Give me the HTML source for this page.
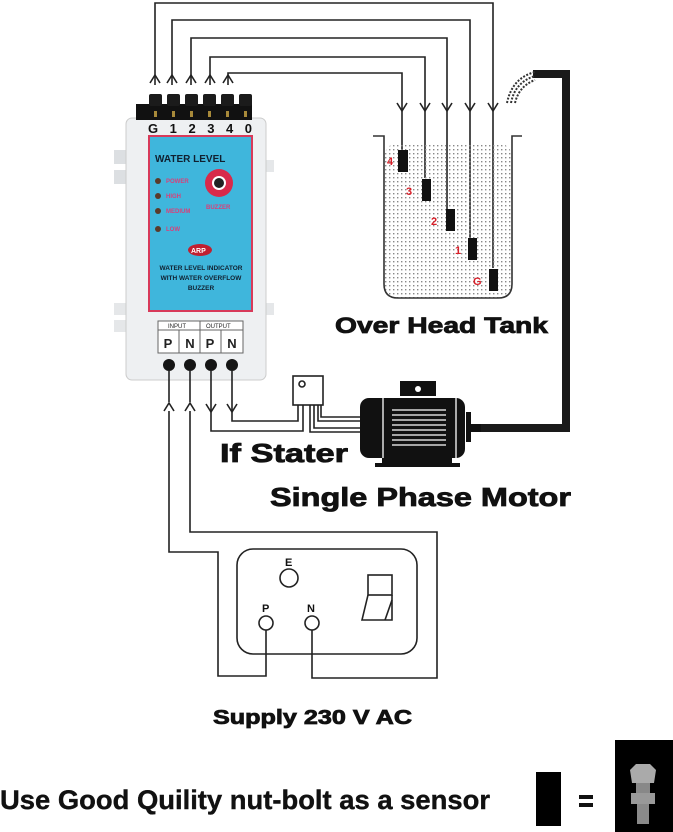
<!DOCTYPE html>
<html><head><meta charset="utf-8"><style>
html,body{margin:0;padding:0;background:#fff;}
svg{display:block;font-family:"Liberation Sans",Arial,sans-serif;}
</style></head><body>
<svg width="673" height="832" viewBox="0 0 673 832" xmlns="http://www.w3.org/2000/svg">
<defs>
<pattern id="dots" width="4" height="4" patternUnits="userSpaceOnUse"><rect x="1" y="1" width="1.4" height="1.4" fill="#888"/></pattern>
</defs>
<g fill="none" stroke="#222" stroke-width="1.6">
<polyline points="155,85 155,3 493,3 493,268"/>
<polyline points="172,85 172,20 470,20 470,238"/>
<polyline points="191,85 191,38 447,38 447,209"/>
<polyline points="210,85 210,57 425,57 425,178"/>
<polyline points="228,85 228,73 402,73 402,150"/>
<polyline points="150,83 155,75 160,83"/><polyline points="167,83 172,75 177,83"/><polyline points="186,83 191,75 196,83"/><polyline points="205,83 210,75 215,83"/><polyline points="223,83 228,75 233,83"/>
<polyline points="397,103 402,111 407,103"/><polyline points="420,103 425,111 430,103"/><polyline points="442,103 447,111 452,103"/><polyline points="465,103 470,111 475,103"/><polyline points="488,103 493,111 498,103"/>
</g>
<rect x="384" y="143" width="128" height="155" rx="14" fill="url(#dots)"/>
<path d="M373,136 H384 V284 Q384,298 398,298 H498 Q512,298 512,284 V136 H522" fill="none" stroke="#333" stroke-width="1.6"/>
<g fill="#111"><rect x="398" y="150" width="10" height="22"/><rect x="422" y="179" width="9" height="22"/><rect x="446" y="209" width="9" height="22"/><rect x="468" y="238" width="9" height="22"/><rect x="489" y="269" width="9" height="22"/></g>
<g fill="#d8202a" font-weight="bold" font-size="11"><text x="387" y="165">4</text><text x="406" y="195">3</text><text x="431" y="225">2</text><text x="455" y="254">1</text><text x="473" y="285">G</text></g>
<path d="M533,74 H566 V428 H480" fill="none" stroke="#1a1a1a" stroke-width="8"/>
<path d="M507,103 Q512,78 535,72 M511,103 Q515,82 535,76 M515,103 Q519,86 535,80" fill="none" stroke="#333" stroke-width="2" stroke-dasharray="2 1.5"/>
<rect x="114" y="150" width="20" height="14" fill="#dcdfe2"/><rect x="114" y="170" width="20" height="14" fill="#dcdfe2"/>
<rect x="114" y="303" width="20" height="12" fill="#e5e7e9"/><rect x="114" y="320" width="20" height="12" fill="#e5e7e9"/>
<rect x="260" y="160" width="14" height="12" fill="#e5e7e9"/><rect x="260" y="303" width="14" height="12" fill="#e5e7e9"/>
<rect x="126" y="118" width="140" height="262" rx="6" fill="#eef0f2" stroke="#ccc"/>
<rect x="136" y="104" width="116" height="16" fill="#111"/>
<g fill="#1b1b1b"><rect x="149" y="94" width="13" height="12" rx="2"/><rect x="167" y="94" width="13" height="12" rx="2"/><rect x="185" y="94" width="13" height="12" rx="2"/><rect x="203" y="94" width="13" height="12" rx="2"/><rect x="221" y="94" width="13" height="12" rx="2"/><rect x="239" y="94" width="13" height="12" rx="2"/></g>
<g fill="#a88a3a"><rect x="154" y="111" width="3" height="6"/><rect x="172" y="111" width="3" height="6"/><rect x="190" y="111" width="3" height="6"/><rect x="208" y="111" width="3" height="6"/><rect x="226" y="111" width="3" height="6"/><rect x="244" y="111" width="3" height="6"/></g>
<text x="148" y="133" font-size="13" font-weight="bold" fill="#111" textLength="104" lengthAdjust="spacing">G 1 2 3 4 0</text>
<rect x="149" y="136" width="103" height="175" fill="#3fb6dc" stroke="#d83a5a" stroke-width="2"/>
<text x="155" y="162" font-size="10" font-weight="bold" fill="#102030">WATER LEVEL</text>
<g fill="#5a3a2a"><circle cx="158" cy="181" r="3"/><circle cx="158" cy="196" r="3"/><circle cx="158" cy="211" r="3"/><circle cx="158" cy="229" r="3"/></g>
<g font-size="6" font-weight="bold" fill="#d8407a"><text x="166" y="183">POWER</text><text x="166" y="198">HIGH</text><text x="166" y="213">MEDIUM</text><text x="166" y="231">LOW</text><text x="206" y="209">BUZZER</text></g>
<circle cx="219" cy="183" r="14" fill="#d82a4a"/><circle cx="219" cy="183" r="7" fill="#fff"/><circle cx="219" cy="183" r="5" fill="#222"/>
<ellipse cx="200" cy="250" rx="12" ry="6" fill="#c02030"/><text x="191" y="253" font-size="7" font-weight="bold" fill="#fff">ARP</text>
<g font-size="6.5" font-weight="bold" fill="#102030" text-anchor="middle"><text x="201" y="270">WATER LEVEL INDICATOR</text><text x="201" y="280">WITH WATER OVERFLOW</text><text x="201" y="290">BUZZER</text></g>
<rect x="158" y="321" width="85" height="32" fill="#fff" stroke="#666"/>
<line x1="158" y1="330" x2="243" y2="330" stroke="#666"/>
<line x1="200" y1="321" x2="200" y2="353" stroke="#666"/><line x1="179" y1="330" x2="179" y2="353" stroke="#666"/><line x1="221" y1="330" x2="221" y2="353" stroke="#666"/>
<g font-size="6" fill="#222"><text x="168" y="328">INPUT</text><text x="206" y="328">OUTPUT</text></g>
<g font-size="13" font-weight="bold" fill="#222" text-anchor="middle"><text x="168" y="348">P</text><text x="190" y="348">N</text><text x="210" y="348">P</text><text x="232" y="348">N</text></g>
<g fill="#151515"><circle cx="169" cy="365" r="6"/><circle cx="190" cy="365" r="6"/><circle cx="211" cy="365" r="6"/><circle cx="232" cy="365" r="6"/></g>
<g fill="none" stroke="#222" stroke-width="1.6">
<line x1="169" y1="370" x2="169" y2="402"/><line x1="190" y1="370" x2="190" y2="402"/>
<polyline points="164,411 169,403 174,411"/><polyline points="185,411 190,403 195,411"/>
<polyline points="211,370 211,431 303,431 303,405"/>
<polyline points="232,370 232,421 298,421 298,405"/>
<polyline points="206,404 211,412 216,404"/><polyline points="227,404 232,412 237,404"/>
<polyline points="310,405 310,432 360,432"/><polyline points="314,405 314,428 360,428"/>
<polyline points="318,405 318,421 360,421"/><polyline points="321,405 321,417 360,417"/>
<rect x="293" y="376" width="30" height="29" fill="#fff"/>
<circle cx="302" cy="384" r="3"/>
<polyline points="169,411 169,552 218,552 218,676 266,676 266,630"/>
<polyline points="190,411 190,532 437,532 437,678 312,678 312,630"/>
<rect x="237" y="549" width="180" height="105" rx="16"/>
<circle cx="289" cy="578" r="9"/><circle cx="266" cy="623" r="7"/><circle cx="312" cy="623" r="7"/>
<rect x="368" y="575" width="24" height="20"/><polyline points="368,595 362,620 392,620 392,595"/><line x1="385" y1="620" x2="392" y2="600"/>
</g>
<g font-size="11" font-weight="bold" fill="#111"><text x="285" y="566">E</text><text x="262" y="612">P</text><text x="307" y="612">N</text></g>
<g fill="#111">
<rect x="400" y="381" width="36" height="15"/>
<rect x="360" y="398" width="105" height="60" rx="9"/>
<rect x="466" y="412" width="5" height="30"/>
<rect x="471" y="424" width="10" height="8"/>
<rect x="382" y="458" width="70" height="6"/><rect x="375" y="463" width="85" height="4"/>
</g>
<circle cx="418" cy="389" r="3" fill="#fff"/>
<g stroke="#fff" stroke-width="1.3"><line x1="383" y1="398" x2="383" y2="458"/><line x1="456" y1="398" x2="456" y2="458"/>
<line x1="392" y1="410" x2="446" y2="410"/><line x1="392" y1="415" x2="446" y2="415"/><line x1="392" y1="420" x2="446" y2="420"/><line x1="392" y1="425" x2="446" y2="425"/><line x1="392" y1="430" x2="446" y2="430"/><line x1="392" y1="435" x2="446" y2="435"/><line x1="392" y1="440" x2="446" y2="440"/><line x1="392" y1="445" x2="446" y2="445"/></g>
<g font-weight="bold" fill="#111" stroke="#111" stroke-width="0.8">
<text x="335" y="333" font-size="22" textLength="213" lengthAdjust="spacingAndGlyphs">Over Head Tank</text>
<text x="220" y="462" font-size="26" textLength="128" lengthAdjust="spacingAndGlyphs">If Stater</text>
<text x="270" y="506" font-size="26" textLength="301" lengthAdjust="spacingAndGlyphs">Single Phase Motor</text>
<text x="213" y="724" font-size="20" textLength="199" lengthAdjust="spacingAndGlyphs">Supply 230 V AC</text>
<text x="0" y="809" font-size="27" stroke-width="0.4" textLength="490" lengthAdjust="spacingAndGlyphs">Use Good Quility nut-bolt as a sensor</text>
</g>
<rect x="536" y="772" width="25" height="54" fill="#000"/>
<rect x="579" y="795" width="14" height="4" fill="#111"/><rect x="579" y="803" width="14" height="4" fill="#111"/>
<rect x="615" y="740" width="58" height="92" fill="#000"/>
<polygon points="630,770 636,764 650,764 656,770 654,783 632,783" fill="#aaa"/>
<rect x="636" y="783" width="14" height="10" fill="#888"/>
<polygon points="631,793 655,793 655,804 631,804" fill="#999"/>
<rect x="637" y="804" width="12" height="20" fill="#8a8a8a"/>
</svg>
</body></html>
